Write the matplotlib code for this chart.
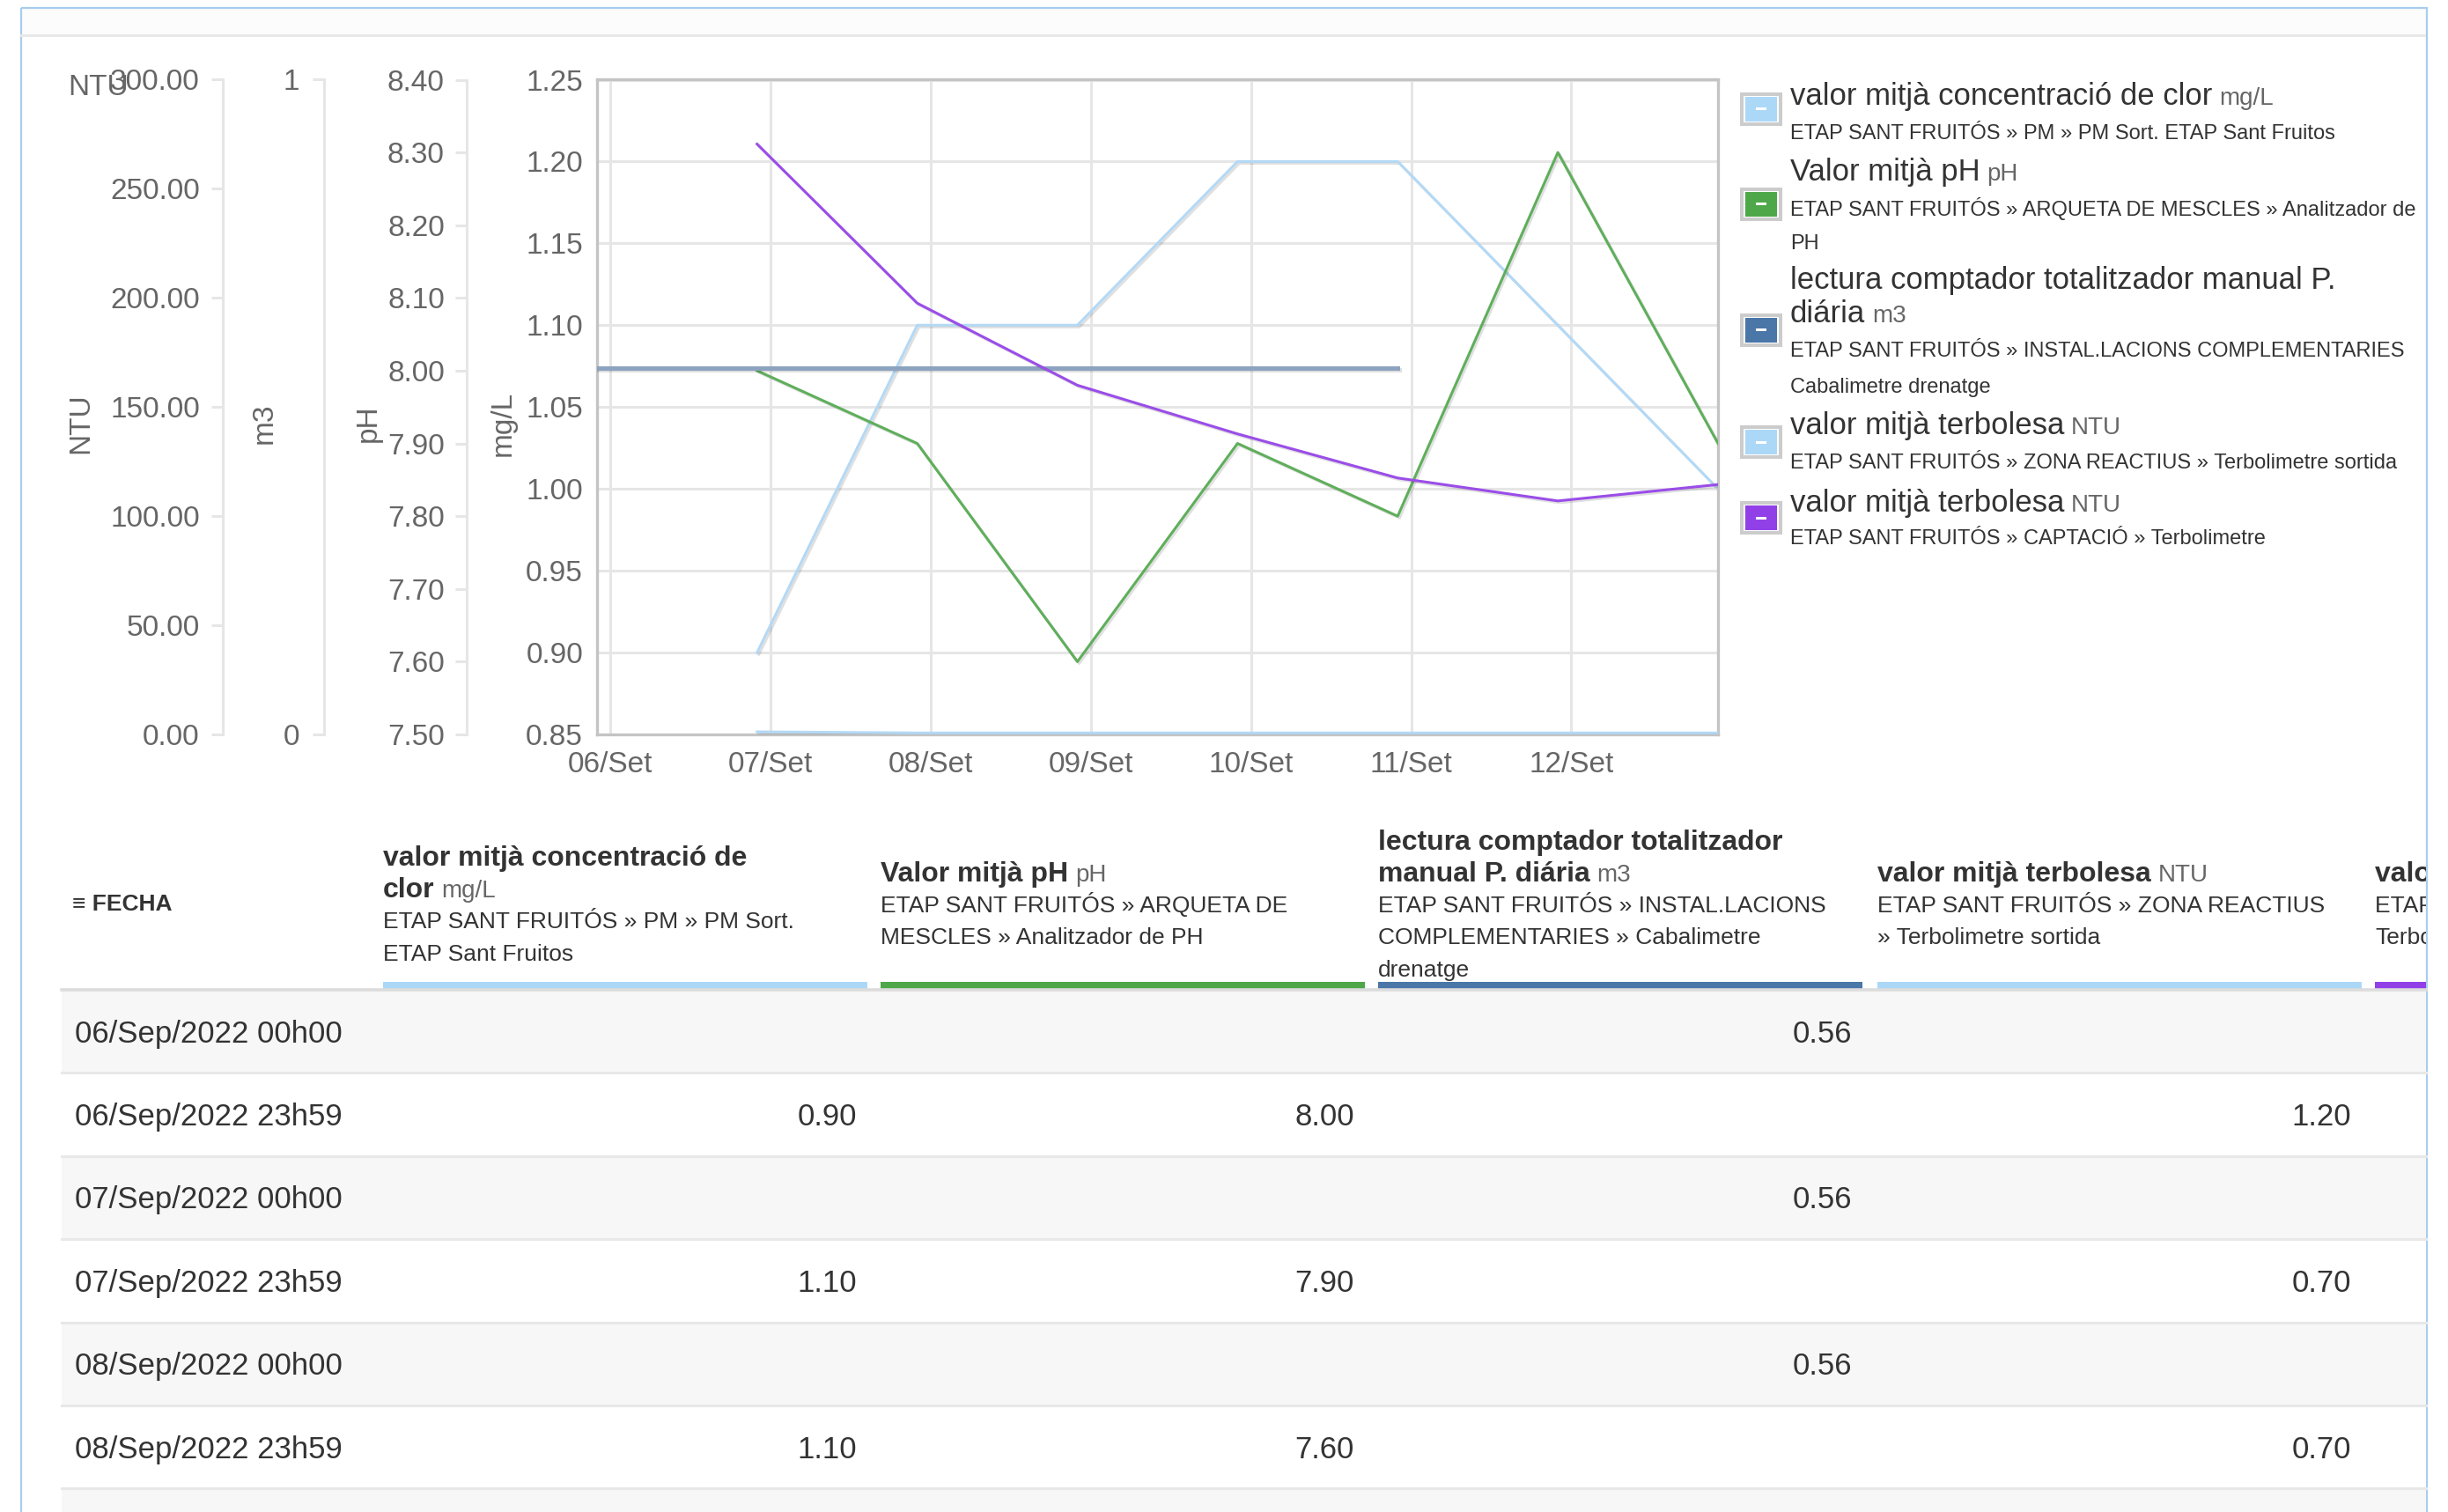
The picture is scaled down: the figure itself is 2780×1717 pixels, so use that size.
import numpy as np
import pandas as pd
import matplotlib
matplotlib.use('Agg')
import matplotlib.pyplot as plt
import matplotlib.dates as mdates
import matplotlib.patheffects as pe
from matplotlib.patches import Rectangle
from matplotlib.ticker import FuncFormatter, FixedLocator
from matplotlib.transforms import Bbox, TransformedBbox

plt.rcParams['font.family'] = ['Liberation Sans', 'DejaVu Sans']

t_daily = ['06/Sep/2022 23h59', '07/Sep/2022 23h59', '08/Sep/2022 23h59', '09/Sep/2022 23h59',
           '10/Sep/2022 23h59', '11/Sep/2022 23h59', '12/Sep/2022 23h59']
t_counter = ['06/Sep/2022 00h00', '07/Sep/2022 00h00', '08/Sep/2022 00h00', '09/Sep/2022 00h00',
             '10/Sep/2022 00h00', '11/Sep/2022 00h00']
clor = [0.90, 1.10, 1.10, 1.20, 1.20, 1.10, 1.00]          # mg/L
ph = [8.00, 7.90, 7.60, 7.90, 7.80, 8.30, 7.90]            # pH
counter_m3 = [0.56, 0.56, 0.56, 0.56, 0.56, 0.56]          # m3
ntu_reactius = [1.20, 0.70, 0.70, 0.70, 0.70, 0.70, 0.70]  # NTU
ntu_captacio = [270.5, 197.6, 160.0, 137.7, 117.5, 107.0, 114.5]  # NTU

series_names = ['valor mitjà concentració de clor', 'Valor mitjà pH',
                'lectura comptador totalitzador manual P. diária', 'valor mitjà terbolesa',
                'valor mitjà terbolesa']
series_units = ['mg/L', 'pH', 'm3', 'NTU', 'NTU']
series_colors = ['#acd8f8', '#4ea84a', '#4a76a8', '#acd8f8', '#9140e8']
line_colors = ['#b3d9f6', '#5fae5b', '#8ba3bf', '#b3d9f6', '#9a4de8']

# the chart shows local time shifted by 2 hours
shift = pd.Timedelta(hours=2)
fmt = '%d/%b/%Y %Hh%M'
x_daily = pd.to_datetime(t_daily, format=fmt) - shift
x_counter = pd.to_datetime(t_counter, format=fmt) - shift

W, H = 2780, 1717
fig = plt.figure(figsize=(W / 100, H / 100), dpi=100)

# overlay in pixel coordinates for the frame, legend and table
ov = fig.add_axes([0, 0, 1, 1])
ov.set_xlim(0, W)
ov.set_ylim(H, 0)
ov.axis('off')
clip = TransformedBbox(Bbox([[0, 0], [2755, H]]), ov.transData)

ov.add_patch(Rectangle((24, 9), 2732, 31, facecolor='#fcfcfc', edgecolor='none'))
ov.plot([24, 2753], [40, 40], color='#e8e8e8', lw=2.2)
ov.add_patch(Rectangle((24, 9), 2732, H + 20, facecolor='none', edgecolor='#a8cdee', lw=1.6))

# ---- main chart ----
L, R, T, B = 678, 1951, 90.5, 834
ax = fig.add_axes([L / W, 1 - B / H, (R - L) / W, (B - T) / H])
ax.set_facecolor('white')
x0 = pd.Timestamp('2022-09-06 00:00') - shift
x1 = pd.Timestamp('2022-09-12 23:59') - shift
ax.set_xlim(x0, x1)
ax.set_ylim(0.85, 1.25)
ax.set_yticks(np.arange(0.85, 1.2501, 0.05))
ax.yaxis.set_major_formatter(FuncFormatter(lambda v, p: f'{v:.2f}'))
ax.xaxis.set_major_locator(mdates.DayLocator())
ax.xaxis.set_major_formatter(FuncFormatter(lambda v, p: mdates.num2date(v).strftime('%d') + '/Set'))
ax.grid(True, color='#e6e6e6', lw=2.2)
ax.set_axisbelow(True)
for s in ax.spines.values():
    s.set_color('#c4c4c4')
    s.set_linewidth(2.4)
ax.tick_params(axis='y', length=0, pad=11.5, labelsize=24, labelcolor='#666666')
ax.tick_params(axis='x', length=0, pad=14, labelsize=24, labelcolor='#666666')

shadow = [pe.SimpleLineShadow(offset=(1.5, -1.5), shadow_color='black', alpha=0.12), pe.Normal()]

ax.plot(x_daily, clor, color=line_colors[0], lw=2.2, path_effects=shadow)


def side_axis(pos, lo, hi, ticks, f, pad):
    a = ax.twinx()
    a.set_ylim(lo, hi)
    for k in ['right', 'top', 'bottom']:
        a.spines[k].set_visible(False)
    a.spines['left'].set_visible(True)
    a.spines['left'].set_position(('axes', pos))
    a.spines['left'].set_color('#e6e6e6')
    a.spines['left'].set_linewidth(2.2)
    a.yaxis.set_ticks_position('left')
    a.yaxis.set_label_position('left')
    a.yaxis.set_major_locator(FixedLocator(ticks))
    a.yaxis.set_major_formatter(FuncFormatter(f))
    a.tick_params(axis='y', direction='out', length=9.5, width=2.2, color='#e6e6e6',
                  pad=pad, labelsize=24, labelcolor='#666666')
    return a


ax_ph = side_axis(-0.1163, 7.5, 8.4, np.arange(7.5, 8.401, 0.1), lambda v, p: f'{v:.2f}', 8.6)
ax_m3 = side_axis(-0.2435, 0, 1, [0, 1], lambda v, p: f'{v:.0f}', 10.8)
ax_ntu = side_axis(-0.3335, 0, 300, np.arange(0, 301, 50), lambda v, p: f'{v:.2f}', 9.7)

ax_ph.plot(x_daily, ph, color=line_colors[1], lw=2.2, path_effects=shadow)
ax_m3.plot(x_counter, counter_m3, color=line_colors[2], lw=3.6, path_effects=shadow)
ax_ntu.plot(x_daily, ntu_reactius, color=line_colors[3], lw=2.2, path_effects=shadow)
ax_ntu.plot(x_daily, ntu_captacio, color=line_colors[4], lw=2.2, path_effects=shadow)

# axis titles
ov.text(77, 100, 'NTU', fontsize=24, color='#666666', ha='left', va='center')
for xt, lab in [(92, 'NTU'), (300, 'm3'), (418, 'pH'), (571, 'mg/L')]:
    ov.text(xt, 481, lab, fontsize=24, color='#666666', rotation=90, ha='center', va='center')

renderer = fig.canvas.get_renderer()


def put(x, yc, s, size, weight='normal', color='#333333', ha='left', unit=None, unit_size=20):
    base = yc + 0.3 * size * 100 / 72
    t = ov.text(x, base, s, fontsize=size, fontweight=weight, color=color, ha=ha,
                va='baseline', clip_on=True)
    t.set_clip_box(clip)
    if unit:
        w = t.get_window_extent(renderer).width
        u = ov.text(x + w + 0.28 * unit_size * 100 / 72, base, unit, fontsize=unit_size,
                    color='#666666', va='baseline', clip_on=True)
        u.set_clip_box(clip)
    return t


# ---- legend ----
box_y = [124, 232, 375, 502, 588]
for yc, c in zip(box_y, series_colors):
    ov.add_patch(Rectangle((1978, yc - 17), 44, 34, facecolor='white', edgecolor='#cccccc', lw=2.9))
    ov.add_patch(Rectangle((1982, yc - 14), 36, 28, facecolor=c, edgecolor='none'))
    ov.add_patch(Rectangle((1994, yc - 1.5), 12, 3, facecolor='white', edgecolor='none'))

lx = 2033
put(lx, 109, series_names[0], 25, unit=series_units[0])
put(lx, 151, 'ETAP SANT FRUITÓS » PM » PM Sort. ETAP Sant Fruitos', 17)
put(lx, 195, series_names[1], 25, unit=series_units[1])
put(lx, 238, 'ETAP SANT FRUITÓS » ARQUETA DE MESCLES » Analitzador de', 17)
put(lx, 276, 'PH', 17)
put(lx, 318, 'lectura comptador totalitzador manual P.', 25)
put(lx, 356, 'diária', 25, unit=series_units[2])
put(lx, 398, 'ETAP SANT FRUITÓS » INSTAL.LACIONS COMPLEMENTARIES', 17)
put(lx, 439, 'Cabalimetre drenatge', 17)
put(lx, 483, series_names[3], 25, unit=series_units[3])
put(lx, 525, 'ETAP SANT FRUITÓS » ZONA REACTIUS » Terbolimetre sortida', 17)
put(lx, 571, series_names[4], 25, unit=series_units[4])
put(lx, 611, 'ETAP SANT FRUITÓS » CAPTACIÓ » Terbolimetre', 17)

# ---- table ----
col_left = [435, 1000, 1565, 2132, 2697]
headers = [
    [('valor mitjà concentració de', None), ('clor', 'mg/L'), ('ETAP SANT FRUITÓS » PM » PM Sort.', 's'),
     ('ETAP Sant Fruitos', 's')],
    [('Valor mitjà pH', 'pH'), ('ETAP SANT FRUITÓS » ARQUETA DE', 's'), ('MESCLES » Analitzador de PH', 's')],
    [('lectura comptador totalitzador', None), ('manual P. diária', 'm3'),
     ('ETAP SANT FRUITÓS » INSTAL.LACIONS', 's'), ('COMPLEMENTARIES » Cabalimetre', 's'), ('drenatge', 's')],
    [('valor mitjà terbolesa', 'NTU'), ('ETAP SANT FRUITÓS » ZONA REACTIUS', 's'), ('» Terbolimetre sortida', 's')],
    [('valor mitjà terbolesa', 'NTU'), ('ETAP SANT FRUITÓS » CAPTACIÓ »', 's'), ('Terbolimetre', 's')],
]
line_h = 36.5
for cx, lines in zip(col_left, headers):
    n = len(lines)
    for i, (txt, kind) in enumerate(lines):
        yc = 1028 + (i - (n - 1) / 2) * line_h
        if kind == 's':
            put(cx, yc, txt, 19)
        else:
            put(cx, yc, txt, 23, weight='bold', unit=kind, unit_size=20)

put(82, 1026, '≡ FECHA', 19, weight='bold')

row_top, row_h = 1124, 94.4
for i in range(7):
    y0 = row_top + i * row_h
    ov.add_patch(Rectangle((70, y0), 2685, row_h, facecolor='#f7f7f7' if i % 2 == 0 else 'white',
                           edgecolor='none'))
    ov.plot([70, 2755], [y0 + row_h, y0 + row_h], color='#e8e8e8', lw=2.2)
ov.plot([70, 2755], [row_top, row_top], color='#dcdcdc', lw=2.6)
for cx, c in zip(col_left, series_colors):
    ov.add_patch(Rectangle((cx, 1115), min(550, 2755 - cx), 8, facecolor=c, edgecolor='none'))

table_rows = []
for d in range(3):
    table_rows.append((t_counter[d], [None, None, counter_m3[d], None, None]))
    table_rows.append((t_daily[d], [clor[d], ph[d], None, ntu_reactius[d], ntu_captacio[d]]))

for i, (label, vals) in enumerate(table_rows):
    yc = row_top + (i + 0.5) * row_h + 2
    put(85, yc, label, 25)
    for cx, v in zip(col_left, vals):
        if v is not None:
            put(cx + 538, yc, f'{v:.2f}', 25, ha='right')

fig.savefig('out.png', dpi=100)
